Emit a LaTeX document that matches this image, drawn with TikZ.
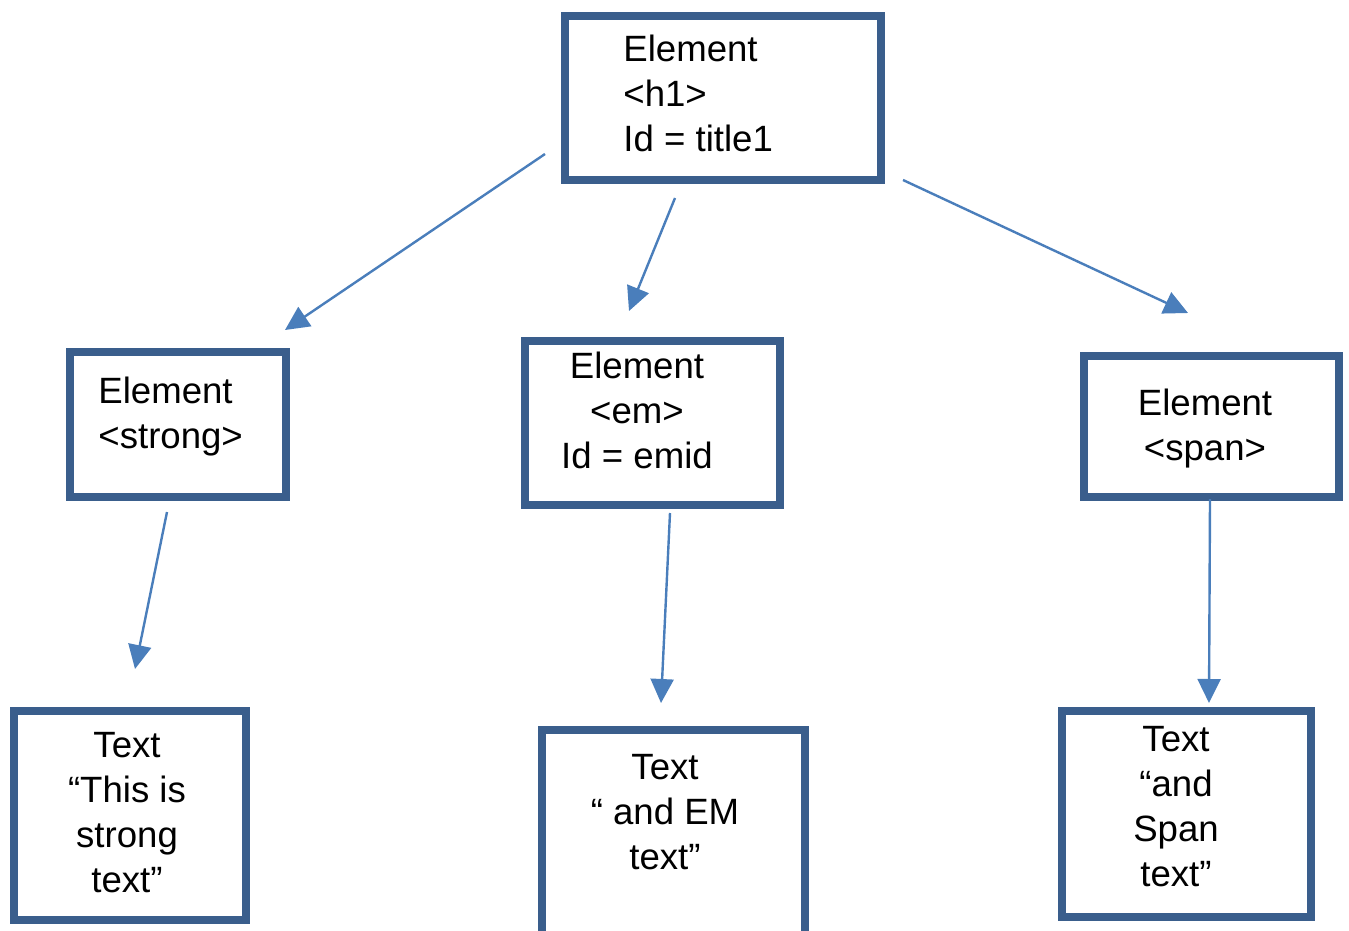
\documentclass[tikz,border=0pt]{standalone}
\usepackage{fontspec}
\setmainfont{Liberation Sans}
\usetikzlibrary{arrows.meta}
\definecolor{boxblue}{HTML}{3A5E8C}
\definecolor{arrowblue}{HTML}{4A7EBB}
\begin{document}
\begin{tikzpicture}[x=0.5pt,y=-0.5pt,
  box/.style={draw=boxblue, line width=4pt, rectangle, inner sep=0pt, fill=white},
  lbl/.style={inner sep=0pt, font=\fontsize{18.3pt}{22.5pt}\selectfont},
  link/.style={draw=arrowblue, line width=1.2pt, -{Triangle[length=12pt,width=11.5pt]}}]
\useasboundingbox (0,0) rectangle (1349,931);

% element boxes
\node[box, minimum width=158pt,   minimum height=82pt]   (h1)     at (723,98)    {};
\node[box, minimum width=108pt,   minimum height=72.5pt] (strong) at (178,424.5) {};
\node[box, minimum width=127.5pt, minimum height=82pt]   (em)     at (652.5,423) {};
\node[box, minimum width=127.5pt, minimum height=70.5pt] (span)   at (1211.5,426.5) {};

% text boxes
\node[box, minimum width=116pt,   minimum height=104.5pt] (t1) at (130,815.5) {};
\node[box, minimum width=131.5pt, minimum height=115pt]   (t2) at (673.5,845) {};
\node[box, minimum width=124.5pt, minimum height=103pt]   (t3) at (1186.5,814) {};

% labels (anchored on the baseline of their last line)
\node[lbl, anchor=base west, align=left] (h1lbl) at (623,152) {Element\\<h1>\\Id = title1};
\node[lbl, anchor=base west, align=left] (stronglbl) at (98,448) {Element\\<strong>};
\node[lbl, anchor=base, align=center] (emlbl) at (637,468) {Element\\<em>\\Id = emid};
\node[lbl, anchor=base, align=center] (spanlbl) at (1205,460) {Element\\<span>};
\node[lbl, anchor=base, align=center] (t1lbl) at (127,892) {Text\\“This is\\strong\\text”};
\node[lbl, anchor=base, align=center] (t2lbl) at (665,869) {Text\\“ and EM\\text”};
\node[lbl, anchor=base, align=center] (t3lbl) at (1176,886) {Text\\“and\\Span\\text”};

% connector end points
\coordinate (a1s) at (545,154);  \coordinate (a1e) at (285,330);
\coordinate (a2s) at (675,198);  \coordinate (a2e) at (629,311);
\coordinate (a3s) at (903,180);  \coordinate (a3e) at (1188,313);
\coordinate (a4s) at (167,512);  \coordinate (a4e) at (135,669);
\coordinate (a5s) at (670,513);  \coordinate (a5e) at (661,703);
\coordinate (a6s) at (1210,499); \coordinate (a6e) at (1209,703);

% connectors
\draw[link] (a1s) -- (a1e);
\draw[link] (a2s) -- (a2e);
\draw[link] (a3s) -- (a3e);
\draw[link] (a4s) -- (a4e);
\draw[link] (a5s) -- (a5e);
\draw[link] (a6s) -- (a6e);
\end{tikzpicture}
\end{document}
